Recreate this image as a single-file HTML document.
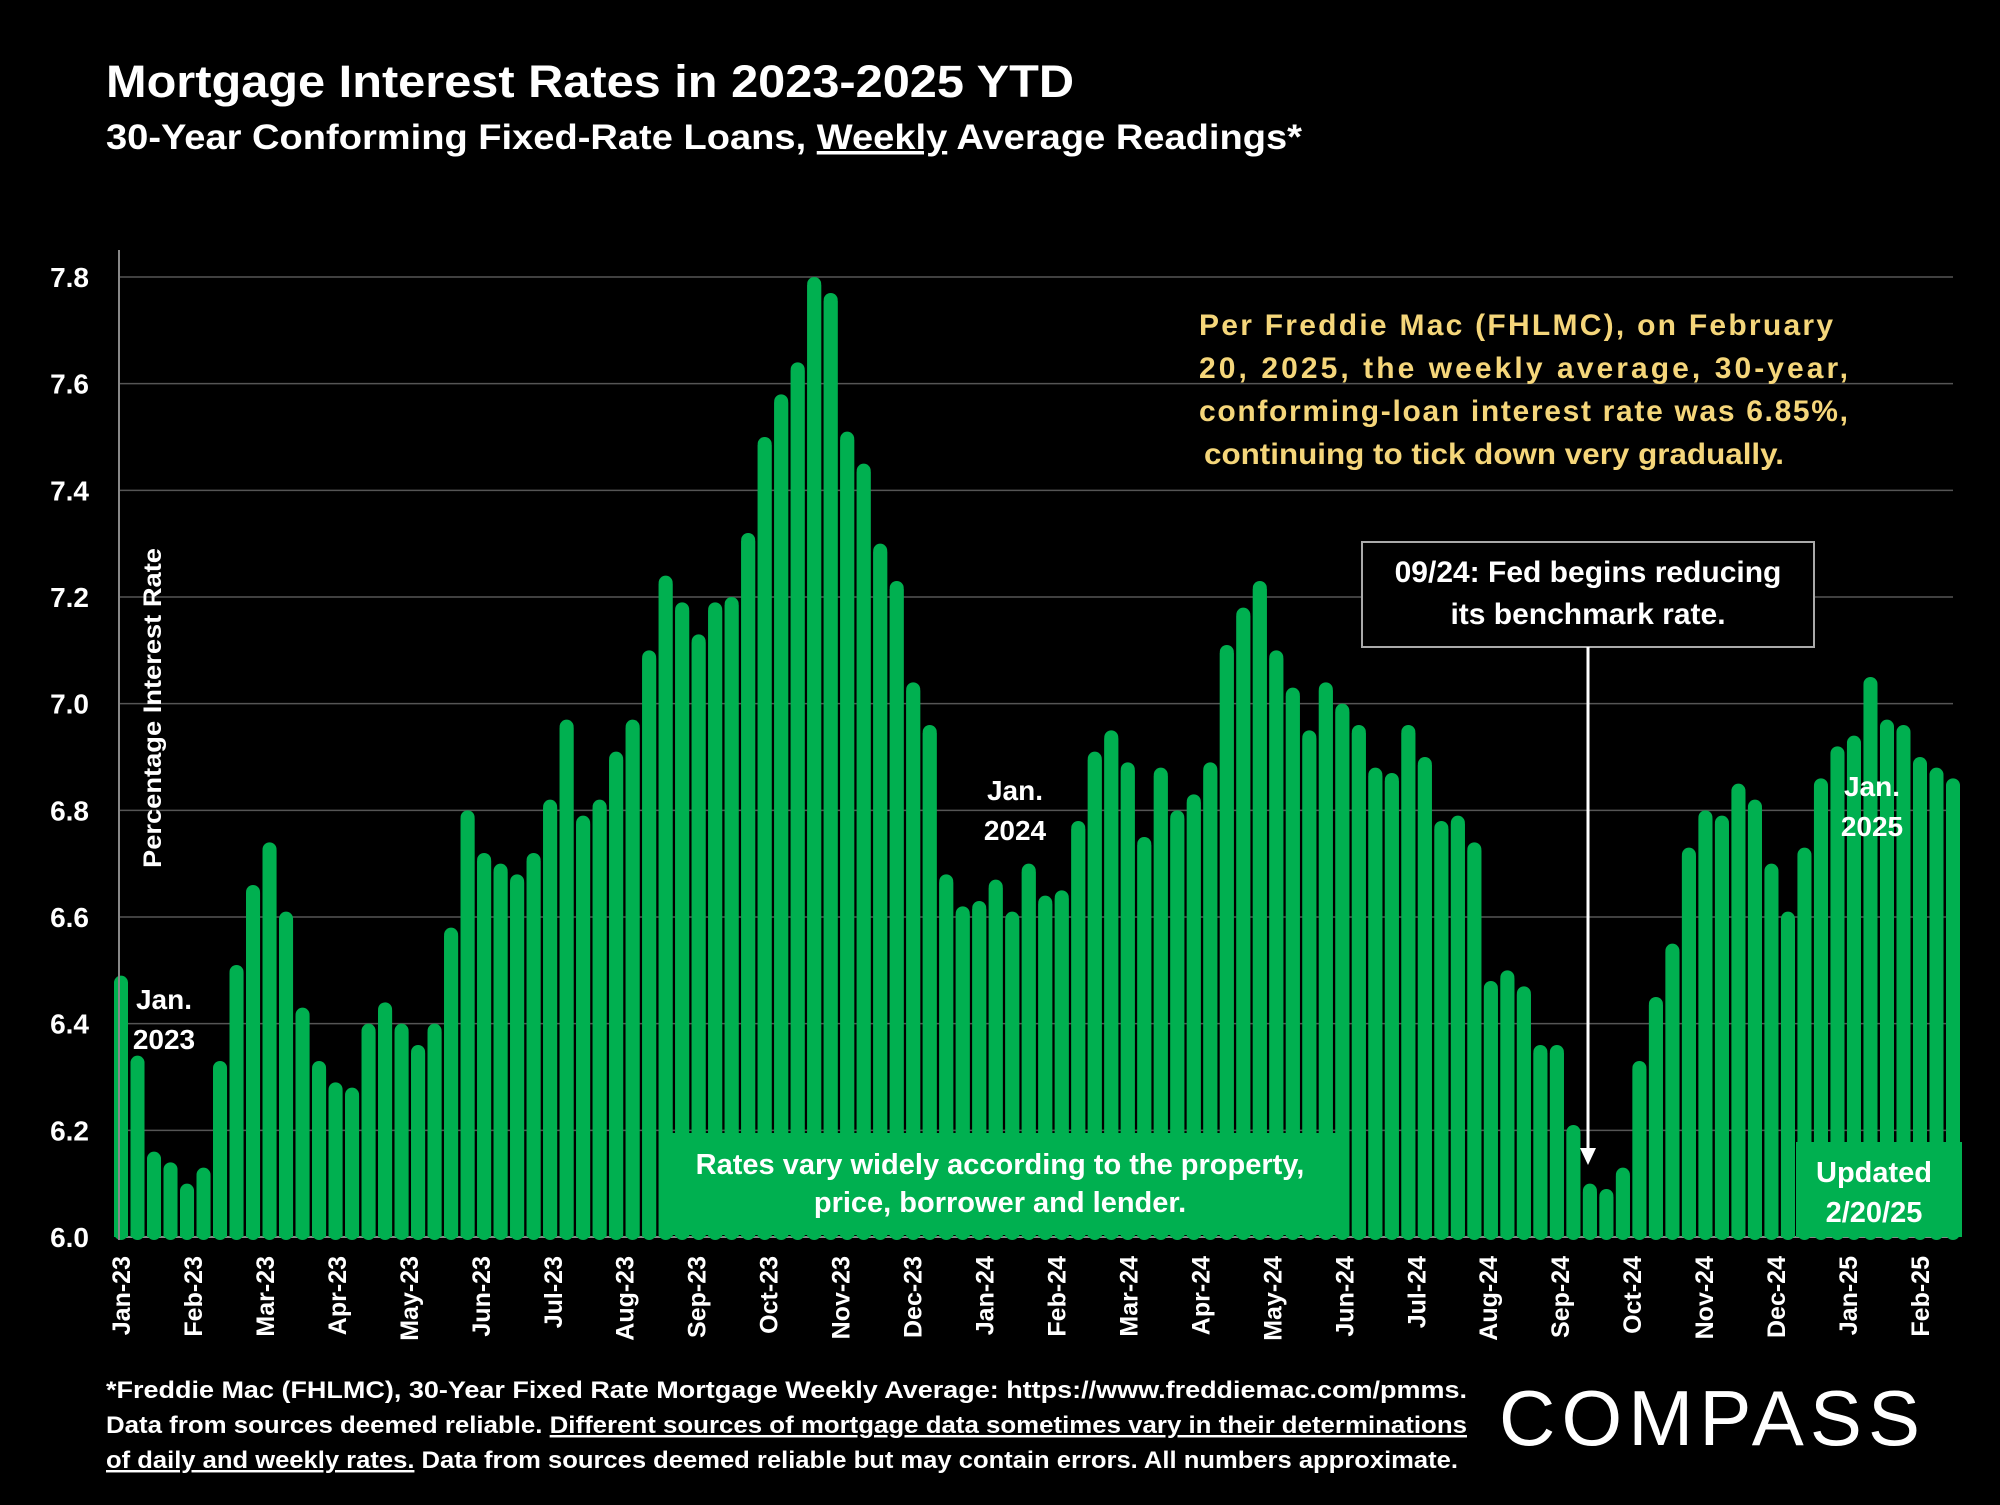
<!DOCTYPE html>
<html><head><meta charset="utf-8"><style>
body{margin:0;background:#000;width:2000px;height:1500px;overflow:hidden;font-family:"Liberation Sans",sans-serif}
</style></head><body>
<svg id="chart" width="2000" height="1500" xmlns="http://www.w3.org/2000/svg" style="font-family:'Liberation Sans',sans-serif">
<rect width="2000" height="1500" fill="#000"/>
<text x="106" y="97" fill="#fff" font-size="45" font-weight="bold" textLength="968" lengthAdjust="spacingAndGlyphs">Mortgage Interest Rates in 2023-2025 YTD</text>
<text x="106" y="149" fill="#fff" font-size="35" font-weight="bold" textLength="1196" lengthAdjust="spacingAndGlyphs">30-Year Conforming Fixed-Rate Loans, <tspan text-decoration="underline">Weekly</tspan> Average Readings*</text>
<g id="grid"></g><g id="bars"></g><g id="yticks"></g><g id="xticks"></g>
<line x1="119" y1="250" x2="119" y2="1240" stroke="#888" stroke-width="2"/>
<text transform="translate(161,708) rotate(-90)" text-anchor="middle" fill="#fff" font-size="25" font-weight="bold" textLength="320" lengthAdjust="spacingAndGlyphs">Percentage Interest  Rate</text>
<g fill="#f5d67a" font-size="30" font-weight="bold">
<text x="1199" y="335" textLength="634" lengthAdjust="spacing">Per Freddie Mac (FHLMC), on February</text>
<text x="1199" y="378" textLength="649" lengthAdjust="spacing">20, 2025, the weekly average, 30-year,</text>
<text x="1199" y="421" textLength="649" lengthAdjust="spacing">conforming-loan interest rate was 6.85%,</text>
<text x="1204" y="464" textLength="580" lengthAdjust="spacingAndGlyphs">continuing to tick down very gradually.</text>
</g>
<rect x="1362" y="542" width="452" height="105" fill="#000" stroke="#aaa" stroke-width="2"/>
<text x="1588" y="582" text-anchor="middle" fill="#fff" font-size="30" font-weight="bold">09/24: Fed begins reducing</text>
<text x="1588" y="624" text-anchor="middle" fill="#fff" font-size="30" font-weight="bold">its benchmark rate.</text>
<line x1="1588" y1="647" x2="1588" y2="1150" stroke="#fff" stroke-width="3"/>
<polygon points="1580,1148 1596,1148 1588,1165" fill="#fff"/>
<rect x="659" y="1133" width="687" height="102" fill="#00b050"/>
<text x="1000" y="1174" text-anchor="middle" fill="#fff" font-size="29" font-weight="bold">Rates vary widely according to the property,</text>
<text x="1000" y="1212" text-anchor="middle" fill="#fff" font-size="29" font-weight="bold">price, borrower and lender.</text>
<rect x="1796" y="1142" width="166" height="95" fill="#00b050"/>
<text x="1874" y="1182" text-anchor="middle" fill="#fff" font-size="29" font-weight="bold">Updated</text>
<text x="1874" y="1222" text-anchor="middle" fill="#fff" font-size="29" font-weight="bold">2/20/25</text>
<g fill="#fff" font-size="28" font-weight="bold" text-anchor="middle">
<text x="164" y="1009">Jan.</text><text x="164" y="1049">2023</text>
<text x="1015" y="800">Jan.</text><text x="1015" y="840">2024</text>
<text x="1872" y="796">Jan.</text><text x="1872" y="836">2025</text>
</g>
<g fill="#fff" font-size="24.5" font-weight="bold">
<text x="106" y="1398" textLength="1361" lengthAdjust="spacingAndGlyphs">*Freddie Mac (FHLMC), 30-Year Fixed Rate Mortgage Weekly Average:  https://www.freddiemac.com/pmms.</text>
<text x="106" y="1433" textLength="1361" lengthAdjust="spacingAndGlyphs">Data from sources deemed reliable. <tspan text-decoration="underline">Different sources of mortgage data sometimes vary in their determinations</tspan></text>
<text x="106" y="1468" textLength="1352" lengthAdjust="spacingAndGlyphs"><tspan text-decoration="underline">of daily and weekly rates.</tspan> Data from sources deemed reliable but may contain errors. All numbers approximate.</text>
</g>
<text x="1499" y="1445" fill="#fff" font-size="78" textLength="421" lengthAdjust="spacing">COMPASS</text>
</svg>
<script>
const values=[6.49,6.34,6.16,6.14,6.10,6.13,6.33,6.51,6.66,6.74,6.61,6.43,6.33,6.29,6.28,6.40,6.44,6.40,6.36,6.40,6.58,6.80,6.72,6.70,6.68,6.72,6.82,6.97,6.79,6.82,6.91,6.97,7.10,7.24,7.19,7.13,7.19,7.20,7.32,7.50,7.58,7.64,7.80,7.77,7.51,7.45,7.30,7.23,7.04,6.96,6.68,6.62,6.63,6.67,6.61,6.70,6.64,6.65,6.78,6.91,6.95,6.89,6.75,6.88,6.80,6.83,6.89,7.11,7.18,7.23,7.10,7.03,6.95,7.04,7.00,6.96,6.88,6.87,6.96,6.90,6.78,6.79,6.74,6.48,6.50,6.47,6.36,6.36,6.21,6.10,6.09,6.13,6.33,6.45,6.55,6.73,6.80,6.79,6.85,6.82,6.70,6.61,6.73,6.86,6.92,6.94,7.05,6.97,6.96,6.90,6.88,6.86];
const monthLabels=["Jan-23","Feb-23","Mar-23","Apr-23","May-23","Jun-23","Jul-23","Aug-23","Sep-23","Oct-23","Nov-23","Dec-23","Jan-24","Feb-24","Mar-24","Apr-24","May-24","Jun-24","Jul-24","Aug-24","Sep-24","Oct-24","Nov-24","Dec-24","Jan-25","Feb-25"];
const yTicks=[6.0,6.2,6.4,6.6,6.8,7.0,7.2,7.4,7.6,7.8];
const NS="http://www.w3.org/2000/svg";
const x0=121,x1=1953,yMin=6.0,yMax=7.8,py0=1237,py1=277;
const xs=i=>x0+i*(x1-x0)/(values.length-1);
const ys=v=>py0-(v-yMin)/(yMax-yMin)*(py0-py1);
const mx=i=>x0+i*(1920-x0)/(monthLabels.length-1);
function mk(t,a,p){const e=document.createElementNS(NS,t);for(const k in a)e.setAttribute(k,a[k]);p.appendChild(e);return e;}
const g=document.getElementById('grid'),b=document.getElementById('bars'),yt=document.getElementById('yticks'),xt=document.getElementById('xticks');
yTicks.forEach(v=>{
 const l=mk('line',{x1:119,x2:1953,y1:ys(v),y2:ys(v),stroke:v==6.0?'#888':'#555','stroke-width':v==6.0?2:1.5},g);
 
 
 const t=mk('text',{x:89,y:ys(v)+10,'text-anchor':'end',fill:'#fff','font-size':28,'font-weight':'bold'},yt);
 t.textContent=v.toFixed(1);
 
 
});
values.forEach((v,i)=>{
 const w=14,top=ys(v),h=py0-top;
 const r=mk('rect',{x:xs(i)-w/2,y:top,width:w,height:h+3,rx:7,fill:'#00b050'},b);
 
 
 mk('rect',{x:xs(i)-w/2,y:top+8,width:w,height:Math.max(0,h-8),fill:'#00b050'},b);
});
monthLabels.forEach((m,i)=>{
 const t=mk('text',{transform:`translate(${mx(i)+9},1256) rotate(-90)`,'text-anchor':'end',fill:'#fff','font-size':25,'font-weight':'bold'},xt);
 t.textContent=m;
 
 
});
</script>
</body></html>
